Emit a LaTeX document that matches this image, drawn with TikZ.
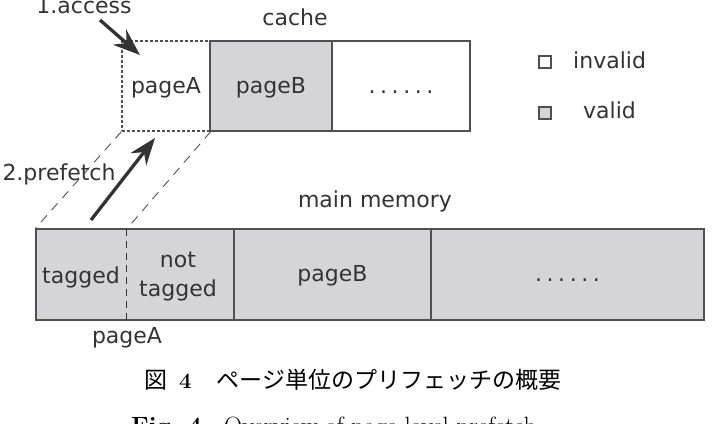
\documentclass[tikz,border=0pt]{standalone}
\usepackage{fontspec}
\newfontfamily\dv{DejaVu Sans}
\newfontfamily\cjk{Noto Sans CJK JP}
\usetikzlibrary{arrows.meta}
\definecolor{boxgray}{HTML}{D5D5D7}
\definecolor{edge}{HTML}{505050}
\definecolor{ink}{HTML}{333333}
\newcommand\sixdots{.\kern4.6pt.\kern4.6pt.\kern4.6pt.\kern4.6pt.\kern4.6pt.}
\begin{document}
\begin{tikzpicture}[x=1pt,y=-1pt,
  lbl/.style={inner sep=0pt,text=ink,font=\dv\fontsize{22}{26}\selectfont},
  cell/.style={draw=edge,line width=1.3pt,inner sep=0pt,text=ink,
    font=\dv\fontsize{22}{26}\selectfont,text height=19pt,text depth=5pt},
  validcell/.style={cell,fill=boxgray},
  guide/.style={draw=edge,line width=0.9pt,dash pattern=on 9pt off 7pt},
  bigarrow/.style={draw=ink,line width=3.3pt,-{Stealth[length=27pt,width=20pt,inset=9pt]}},
  legbox/.style={draw=edge,line width=1.1pt,minimum size=12pt,inner sep=0pt}]
\useasboundingbox (0,0) rectangle (712,423);
% cache row
\node[cell,draw=edge,dash pattern=on 3pt off 2pt,minimum width=88pt,minimum height=90pt] (cA) at (166,86) {pageA};
\node[validcell,minimum width=122pt,minimum height=90pt] (cB) at (271,86) {pageB};
\node[cell,fill=white,minimum width=138pt,minimum height=90pt] (cC) at (401,86) {\sixdots};
\node[lbl,anchor=base] (cache) at (295,25) {cache};
% legend
\node[legbox,fill=white] (sqI) at (545,62) {};
\node[legbox,fill=boxgray] (sqV) at (545,113) {};
\node[lbl,anchor=base west] (tI) at (573,68) {invalid};
\node[lbl,anchor=base west] (tV) at (583,118) {valid};
% main memory row
\node[validcell,minimum width=198pt,minimum height=91pt] (mA) at (135,274.5) {};
\node[validcell,minimum width=197pt,minimum height=91pt] (mB) at (332.5,274.5) {pageB};
\node[validcell,minimum width=273pt,minimum height=91pt] (mC) at (567.5,274.5) {\sixdots};
\coordinate (sT) at (126.7,229);
\coordinate (sB) at (126.7,320);
\draw[draw=ink,line width=1pt,dash pattern=on 7pt off 5pt] (sT) -- (sB);
\node[lbl,anchor=base] (tg) at (81,283) {tagged};
\node[lbl,anchor=base] (nt1) at (178,267) {not};
\node[lbl,anchor=base] (nt2) at (178,296) {tagged};
\node[lbl,anchor=base] (pA) at (127,343) {pageA};
\node[lbl,anchor=base] (mm) at (375,207) {main memory};
% guides
\draw[guide] (cA.south west) -- (mA.north west);
\draw[guide] (cA.south east) -- (sT);
% arrows
\node[lbl,anchor=base] (acc) at (84,13) {1.access};
\node[lbl,anchor=base] (pre) at (59,180) {2.prefetch};
\coordinate (a1s) at (100,20);
\coordinate (a1e) at (140,55);
\coordinate (a2s) at (91,220);
\coordinate (a2e) at (155,138);
\draw[bigarrow] (a1s) -- (a1e);
\draw[bigarrow] (a2s) -- (a2e);
% caption
\node[inner sep=0pt,anchor=base west] (cap1) at (144,388)
  {{\cjk\fontsize{23}{26}\selectfont 図}\hspace{12pt}{\fontsize{22}{26}\selectfont\bfseries 4}\hspace{25pt}{\cjk\fontsize{23}{26}\selectfont ページ単位のプリフェッチの概要}};
\node[inner sep=0pt,anchor=base west] (cap2) at (131,434)
  {\fontsize{25}{30}\selectfont{\bfseries Fig.~4}\hspace{22pt}Overview of page-level prefetch};
\end{tikzpicture}
\end{document}
